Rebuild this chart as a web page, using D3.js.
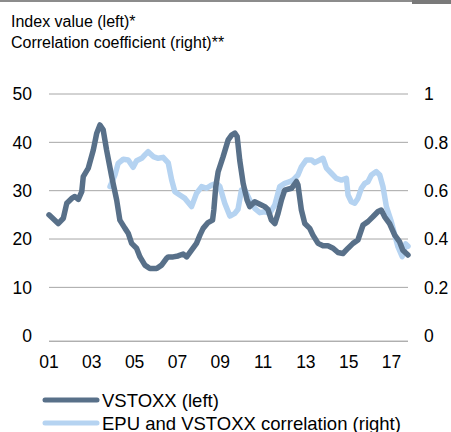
<!DOCTYPE html>
<html>
<head>
<meta charset="utf-8">
<script src="https://cdn.jsdelivr.net/npm/d3@7"></script>
<style>
  body { margin: 0; background: #fff; }
  svg { display: block; font-family: "Liberation Sans", Arial, sans-serif; }
</style>
</head>
<body>
<svg id="chart" width="451" height="432"></svg>
<script>
// VSTOXX index level (left axis), decimal year -> value
const vstoxxYears = [2001.00, 2001.43, 2001.67, 2001.83, 2002.06, 2002.21, 2002.37, 2002.53, 2002.60, 2002.83,
  2003.07, 2003.23, 2003.38, 2003.53, 2003.69, 2003.93, 2004.16, 2004.31, 2004.55, 2004.70,
  2004.86, 2005.09, 2005.25, 2005.48, 2005.71, 2006.03, 2006.26, 2006.49, 2006.57, 2006.80,
  2007.03, 2007.27, 2007.43, 2007.66, 2007.89, 2008.05, 2008.20, 2008.43, 2008.64, 2008.70,
  2008.79, 2008.90, 2009.13, 2009.37, 2009.53, 2009.68, 2009.79, 2009.91, 2010.07, 2010.25,
  2010.38, 2010.61, 2010.85, 2011.08, 2011.23, 2011.39, 2011.55, 2011.70, 2011.86, 2012.01,
  2012.33, 2012.56, 2012.63, 2012.79, 2012.95, 2013.18, 2013.33, 2013.57, 2013.80, 2014.03,
  2014.27, 2014.50, 2014.73, 2014.97, 2015.20, 2015.43, 2015.67, 2015.90, 2016.13, 2016.37,
  2016.52, 2016.68, 2016.91, 2017.15, 2017.38, 2017.53, 2017.77];
const vstoxxValues = [25.0, 23.2, 24.3, 27.4, 28.4, 28.8, 28.2, 29.8, 32.9, 34.6,
  38.4, 41.9, 43.6, 42.6, 38.4, 32.9, 28.1, 23.9, 22.2, 21.2,
  19.1, 18.1, 16.3, 14.6, 13.9, 13.9, 14.6, 16.0, 16.3, 16.3,
  16.5, 16.9, 16.3, 17.7, 19.1, 20.8, 22.2, 23.4, 23.9, 26.0,
  30.8, 33.9, 37.0, 40.5, 41.5, 41.9, 41.2, 36.3, 31.5, 28.1,
  26.7, 27.7, 27.2, 26.7, 26.1, 23.9, 23.2, 25.3, 28.1, 30.1,
  30.5, 31.9, 31.2, 26.0, 23.2, 22.2, 20.8, 19.1, 18.6, 18.6,
  18.1, 17.2, 17.0, 18.1, 19.1, 19.8, 22.9, 23.6, 24.6, 25.7,
  26.0, 24.6, 23.2, 20.8, 19.4, 17.7, 16.7];

// EPU and VSTOXX correlation (right axis)
const corrYears = [2003.85, 2004.08, 2004.23, 2004.47, 2004.70, 2004.93, 2005.09, 2005.33, 2005.48, 2005.63,
  2005.87, 2006.10, 2006.33, 2006.57, 2006.73, 2006.88, 2007.11, 2007.35, 2007.66, 2007.89,
  2008.13, 2008.36, 2008.59, 2008.83, 2008.98, 2009.21, 2009.45, 2009.68, 2009.83, 2009.99,
  2010.15, 2010.38, 2010.61, 2010.85, 2011.08, 2011.31, 2011.55, 2011.78, 2012.01, 2012.25,
  2012.40, 2012.63, 2012.79, 2013.02, 2013.26, 2013.41, 2013.65, 2013.80, 2013.96, 2014.19,
  2014.42, 2014.66, 2014.89, 2014.97, 2015.12, 2015.28, 2015.43, 2015.59, 2015.75, 2015.90,
  2016.06, 2016.29, 2016.45, 2016.60, 2016.76, 2016.99, 2017.15, 2017.30, 2017.50, 2017.66,
  2017.77];
const corrValues = [0.617, 0.665, 0.713, 0.730, 0.727, 0.697, 0.724, 0.734, 0.748, 0.761,
  0.741, 0.734, 0.738, 0.715, 0.644, 0.596, 0.582, 0.568, 0.534, 0.589,
  0.617, 0.610, 0.623, 0.630, 0.617, 0.548, 0.495, 0.506, 0.523, 0.603,
  0.603, 0.561, 0.527, 0.509, 0.513, 0.506, 0.541, 0.617, 0.630, 0.637,
  0.644, 0.665, 0.699, 0.727, 0.727, 0.716, 0.727, 0.734, 0.693, 0.672,
  0.651, 0.644, 0.651, 0.582, 0.554, 0.548, 0.568, 0.610, 0.630, 0.637,
  0.665, 0.679, 0.665, 0.617, 0.534, 0.472, 0.417, 0.368, 0.327, 0.380,
  0.370];

const leftTicks = [0, 10, 20, 30, 40, 50];
const rightTicks = [0, 0.2, 0.4, 0.6, 0.8, 1];
const yearTicks = [2001, 2003, 2005, 2007, 2009, 2011, 2013, 2015, 2017];
const titleLines = ["Index value (left)*", "Correlation coefficient (right)**"];
const legendLabels = ["VSTOXX (left)", "EPU and VSTOXX correlation (right)"];

const darkColor = "#587089";
const lightColor = "#b5d3f1";

const svg = d3.select("#chart");

const x = d3.scaleLinear().domain([2001, 2017.77]).range([49, 408]);
const yL = d3.scaleLinear().domain([0, 50]).range([335.7, 94]);
const yR = d3.scaleLinear().domain([0, 1]).range([335.7, 94]);

// top rule
svg.append("rect").attr("x", 0).attr("y", 0).attr("width", 412).attr("height", 2).attr("fill", "#8c8c8c");
svg.append("rect").attr("x", 412).attr("y", 0).attr("width", 39).attr("height", 4).attr("fill", "#7a7a7a");

// titles
svg.append("g").selectAll("text").data(titleLines).join("text")
  .attr("x", 11)
  .attr("y", (d, i) => 27 + i * 21)
  .attr("font-size", 16)
  .attr("fill", "#000")
  .text(d => d);

// gridlines
svg.append("g").selectAll("line").data(leftTicks.filter(d => d > 0)).join("line")
  .attr("x1", 49).attr("x2", 408)
  .attr("y1", d => yL(d)).attr("y2", d => yL(d))
  .attr("stroke", "#a6a6a6").attr("stroke-width", 1);

// bottom axis line (sits slightly below the zero level in the original)
svg.append("line")
  .attr("x1", 49).attr("x2", 408)
  .attr("y1", yL(0) + 5.5).attr("y2", yL(0) + 5.5)
  .attr("stroke", "#8c8c8c").attr("stroke-width", 1);

const axisFont = 17.5;

// left labels
svg.append("g").selectAll("text").data(leftTicks).join("text")
  .attr("x", 32)
  .attr("y", d => yL(d))
  .attr("dy", "0.36em")
  .attr("text-anchor", "end")
  .attr("font-size", axisFont)
  .text(d => d);

// right labels
svg.append("g").selectAll("text").data(rightTicks).join("text")
  .attr("x", 424)
  .attr("y", d => yR(d))
  .attr("dy", "0.36em")
  .attr("font-size", axisFont)
  .text(d => d3.format("~g")(d));

// x labels
svg.append("g").selectAll("text").data(yearTicks).join("text")
  .attr("x", d => x(d))
  .attr("y", 368)
  .attr("text-anchor", "middle")
  .attr("font-size", axisFont)
  .text(d => String(d % 100).padStart(2, "0"));

const lineL = d3.line().x(d => x(d[0])).y(d => yL(d[1]));
const lineR = d3.line().x(d => x(d[0])).y(d => yR(d[1]));

svg.append("path")
  .datum(d3.zip(corrYears, corrValues))
  .attr("d", lineR)
  .attr("fill", "none")
  .attr("stroke", lightColor)
  .attr("stroke-width", 5.5)
  .attr("stroke-linejoin", "round")
  .attr("stroke-linecap", "round");

svg.append("path")
  .datum(d3.zip(vstoxxYears, vstoxxValues))
  .attr("d", lineL)
  .attr("fill", "none")
  .attr("stroke", darkColor)
  .attr("stroke-width", 5.5)
  .attr("stroke-linejoin", "round")
  .attr("stroke-linecap", "round");

// legend
const legend = svg.append("g").selectAll("g")
  .data(legendLabels.map((t, i) => ({ t, c: i === 0 ? darkColor : lightColor })))
  .join("g")
  .attr("transform", (d, i) => `translate(0,${400 + i * 23})`);
legend.append("line")
  .attr("x1", 45).attr("x2", 97)
  .attr("stroke", d => d.c).attr("stroke-width", 5).attr("stroke-linecap", "round");
legend.append("text")
  .attr("x", 102).attr("y", 6.5)
  .attr("font-size", 18.5)
  .text(d => d.t);
</script>
</body>
</html>
